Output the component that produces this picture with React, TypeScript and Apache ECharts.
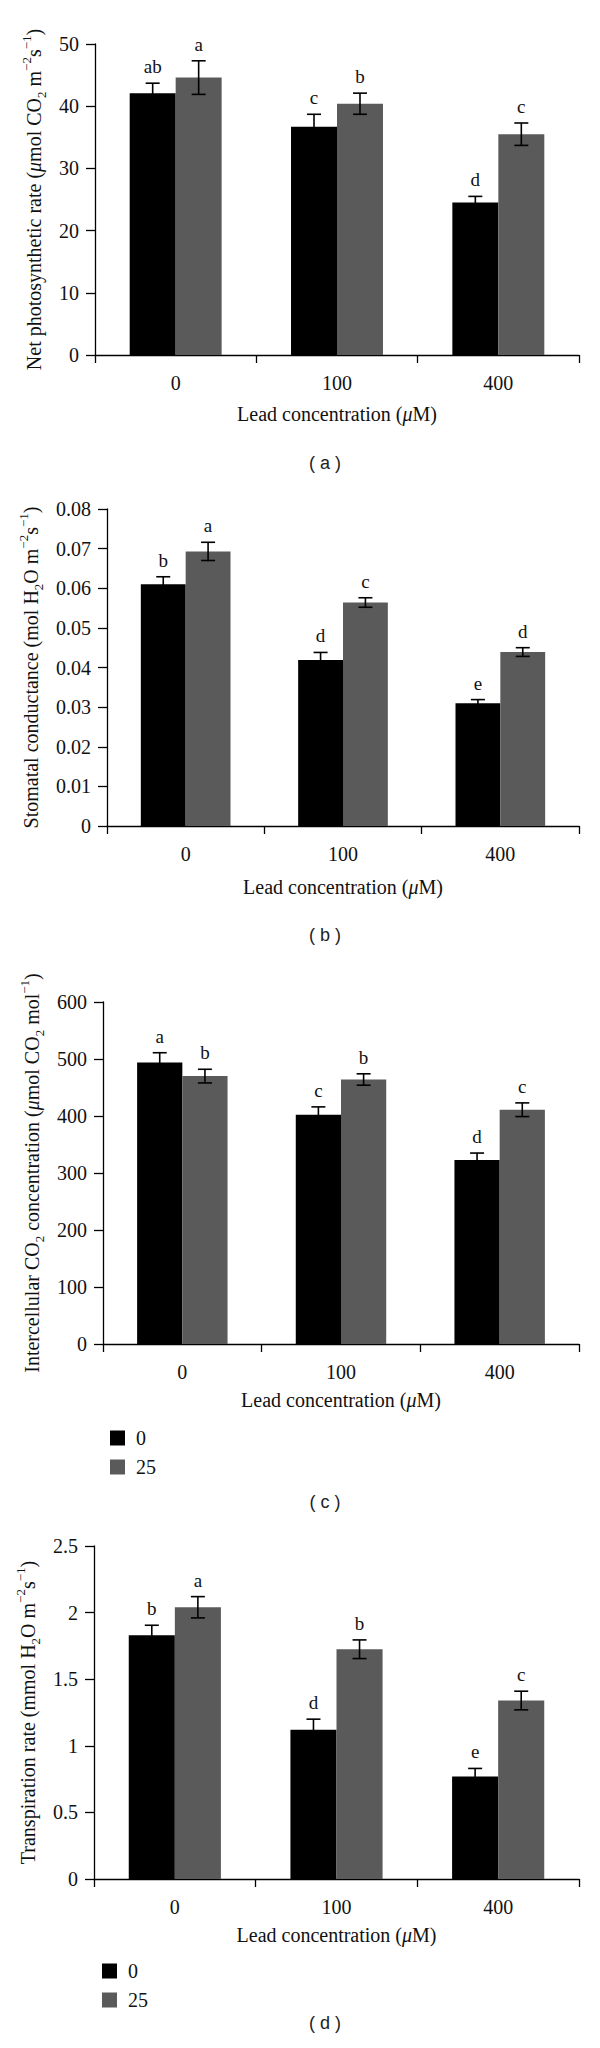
import React, { useEffect, useRef } from 'react';
import * as echarts from 'echarts';

// ---------- data ----------
const categories = ['0', '100', '400'];
const treatments = ['0', '25'];

// (a) Net photosynthetic rate
const photoValues0 = [42.1, 36.7, 24.5];
const photoValues25 = [44.6, 40.4, 35.5];
const photoErr0 = [1.6, 2.0, 1.0];
const photoErr25 = [2.7, 1.7, 1.8];
const photoLetters0 = ['ab', 'c', 'd'];
const photoLetters25 = ['a', 'b', 'c'];

// (b) Stomatal conductance
const condValues0 = [0.061, 0.0419, 0.031];
const condValues25 = [0.0693, 0.0564, 0.0439];
const condErr0 = [0.0019, 0.0019, 0.0009];
const condErr25 = [0.0023, 0.0012, 0.0011];
const condLetters0 = ['b', 'd', 'e'];
const condLetters25 = ['a', 'c', 'd'];

// (c) Intercellular CO2 concentration
const ciValues0 = [494, 402, 323];
const ciValues25 = [470, 464, 411];
const ciErr0 = [17, 14, 12];
const ciErr25 = [12, 10, 12];
const ciLetters0 = ['a', 'c', 'd'];
const ciLetters25 = ['b', 'b', 'c'];

// (d) Transpiration rate
const transValues0 = [1.83, 1.12, 0.77];
const transValues25 = [2.04, 1.725, 1.34];
const transErr0 = [0.075, 0.08, 0.06];
const transErr25 = [0.08, 0.07, 0.07];
const transLetters0 = ['b', 'd', 'e'];
const transLetters25 = ['a', 'b', 'c'];

// y-axis scales
const yMaxes = [50, 0.08, 600, 2.5];
const yIntervals = [10, 0.01, 100, 0.5];

const captions = ['( a )', '( b )', '( c )', '( d )'];

const yTitles = [
  '{n|Net photosynthetic rate (}{i|μ}{n|mol CO}{sub|2}{n| m}{sup|−2}{n|s}{sup|−1}{n|)}',
  '{n|Stomatal conductance (mol H}{sub|2}{n|O m}{sup|−2}{n|s}{sup|−1}{n|)}',
  '{n|Intercellular CO}{sub|2}{n| concentration (}{i|μ}{n|mol CO}{sub|2}{n| mol}{sup|−1}{n|)}',
  '{n|Transpiration rate (mmol H}{sub|2}{n|O m}{sup|−2}{n|s}{sup|−1}{n|)}',
];
const xTitle = '{n|Lead concentration (}{i|μ}{n|M)}';

// ---------- layout ----------
const layouts = [
  { left: 95, width: 484, top: 44, height: 311, yGap: 57, xGap: 59, capY: 463 },
  { left: 107, width: 472, top: 509, height: 317, yGap: 71, xGap: 61, capY: 935 },
  { left: 103, width: 476, top: 1002, height: 342, yGap: 66, xGap: 56, capY: 1502 },
  { left: 94, width: 485, top: 1546, height: 333, yGap: 59, xGap: 56, capY: 2023 },
];

const SERIF = '"Liberation Serif", "Times New Roman", serif';
const SANS = '"Liberation Sans", Arial, sans-serif';
const INK = '#111';
const BLACK = '#000000';
const GRAY = '#5a5a5a';
const CAT_GAP = 0.43;

const richStyles = {
  n: { fontFamily: SERIF, fontSize: 20, color: INK, lineHeight: 28 },
  i: { fontFamily: SERIF, fontSize: 20, fontStyle: 'italic', color: INK, lineHeight: 28 },
  sup: { fontFamily: SERIF, fontSize: 13, color: INK, lineHeight: 13, verticalAlign: 'top' },
  sub: { fontFamily: SERIF, fontSize: 13, color: INK, lineHeight: 17, verticalAlign: 'bottom' },
};

function buildOption() {
  const panels = [
    { v0: photoValues0, v1: photoValues25, e0: photoErr0, e1: photoErr25, l0: photoLetters0, l1: photoLetters25 },
    { v0: condValues0, v1: condValues25, e0: condErr0, e1: condErr25, l0: condLetters0, l1: condLetters25 },
    { v0: ciValues0, v1: ciValues25, e0: ciErr0, e1: ciErr25, l0: ciLetters0, l1: ciLetters25 },
    { v0: transValues0, v1: transValues25, e0: transErr0, e1: transErr25, l0: transLetters0, l1: transLetters25 },
  ];

  const grid: any[] = [];
  const xAxis: any[] = [];
  const yAxis: any[] = [];
  const series: any[] = [];
  const graphic: any[] = [];

  panels.forEach((p, k) => {
    const L = layouts[k];
    grid.push({ left: L.left, top: L.top, width: L.width, height: L.height });
    xAxis.push({
      type: 'category',
      gridIndex: k,
      data: categories,
      axisLine: { show: true, lineStyle: { color: '#000', width: 1.3 } },
      axisTick: { show: true, length: 8, lineStyle: { color: '#000', width: 1.3 } },
      axisLabel: { fontFamily: SERIF, fontSize: 20, color: INK, margin: 18 },
      name: xTitle,
      nameLocation: 'middle',
      nameGap: L.xGap,
      nameTextStyle: { verticalAlign: 'middle', rich: richStyles },
    });
    yAxis.push({
      type: 'value',
      gridIndex: k,
      min: 0,
      max: yMaxes[k],
      interval: yIntervals[k],
      splitLine: { show: false },
      axisLine: { show: true, lineStyle: { color: '#000', width: 1.3 } },
      axisTick: { show: true, length: 9, lineStyle: { color: '#000', width: 1.3 } },
      axisLabel: { fontFamily: SERIF, fontSize: 20, color: INK, margin: 16 },
      name: yTitles[k],
      nameLocation: 'middle',
      nameRotate: 90,
      nameGap: L.yGap,
      nameTextStyle: { verticalAlign: 'middle', rich: richStyles },
    });

    const groups = [
      { name: treatments[0], values: p.v0, errs: p.e0, letters: p.l0, color: BLACK, sign: -1 },
      { name: treatments[1], values: p.v1, errs: p.e1, letters: p.l1, color: GRAY, sign: 1 },
    ];
    groups.forEach((g) => {
      series.push({
        type: 'bar',
        name: g.name,
        xAxisIndex: k,
        yAxisIndex: k,
        data: g.values,
        barGap: '0%',
        barCategoryGap: CAT_GAP * 100 + '%',
        itemStyle: { color: g.color },
        z: 2,
      });
    });
    groups.forEach((g) => {
      series.push({
        type: 'custom',
        name: g.name + ' error',
        xAxisIndex: k,
        yAxisIndex: k,
        clip: false,
        z: 5,
        data: g.values.map((v, i) => [i, v, g.errs[i]]),
        encode: { x: 0, y: 1 },
        renderItem: (params: any, api: any) => {
          const ci = api.value(0);
          const v = api.value(1);
          const e = api.value(2);
          const band = api.coord([1, 0])[0] - api.coord([0, 0])[0];
          const bw = (band * (1 - CAT_GAP)) / 2;
          const top = api.coord([ci, v + e]);
          const bot = api.coord([ci, v - e]);
          const cx = top[0] + (g.sign * bw) / 2;
          const cap = 7;
          const st = { stroke: '#000', lineWidth: 1.6 };
          return {
            type: 'group',
            children: [
              { type: 'line', shape: { x1: cx, y1: top[1], x2: cx, y2: bot[1] }, style: st },
              { type: 'line', shape: { x1: cx - cap, y1: top[1], x2: cx + cap, y2: top[1] }, style: st },
              { type: 'line', shape: { x1: cx - cap, y1: bot[1], x2: cx + cap, y2: bot[1] }, style: st },
              {
                type: 'text',
                x: cx,
                y: top[1] - 7,
                style: {
                  text: g.letters[params.dataIndex],
                  fill: INK,
                  font: '19px ' + SERIF,
                  align: 'center',
                  verticalAlign: 'bottom',
                },
              },
            ],
          };
        },
      });
    });

    graphic.push({
      type: 'text',
      x: 325,
      y: L.capY,
      style: {
        text: captions[k],
        font: '18px ' + SANS,
        fill: '#222',
        align: 'center',
        verticalAlign: 'middle',
      },
    });
  });

  const legendCommon = {
    orient: 'vertical',
    icon: 'rect',
    itemWidth: 15,
    itemHeight: 15,
    itemGap: 9,
    data: treatments,
    selectedMode: false,
    textStyle: { fontFamily: SERIF, fontSize: 20, color: INK, lineHeight: 15, padding: [0, 0, 0, 6] },
  };

  return {
    animation: false,
    backgroundColor: '#ffffff',
    grid,
    xAxis,
    yAxis,
    series,
    graphic,
    legend: [
      { ...legendCommon, left: 105, top: 1423 },
      { ...legendCommon, left: 97, top: 1956 },
    ],
  };
}

export default function App() {
  const ref = useRef<HTMLDivElement>(null);
  useEffect(() => {
    if (!ref.current) return;
    const chart = echarts.init(ref.current, null, { renderer: 'svg' });
    chart.setOption(buildOption() as any);
    return () => chart.dispose();
  }, []);
  return (
    <div
      ref={ref}
      style={{ position: 'absolute', left: 0, top: 0, width: 600, height: 2048, background: '#fff' }}
    />
  );
}
